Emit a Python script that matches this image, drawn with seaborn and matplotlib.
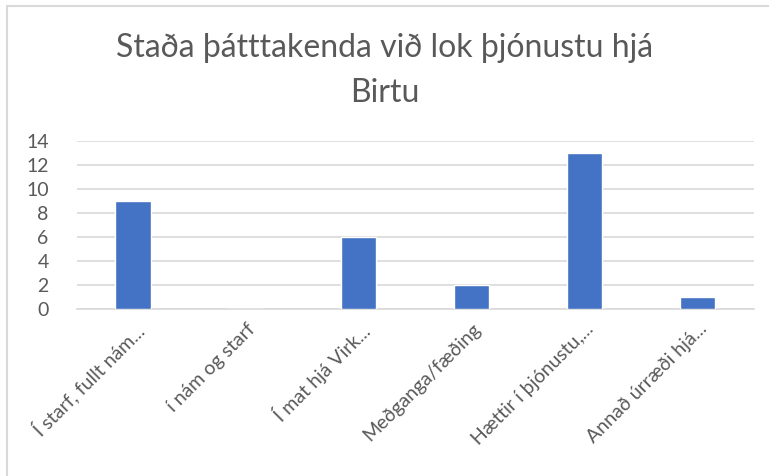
import matplotlib
matplotlib.use("Agg")
import matplotlib.pyplot as plt
from matplotlib.lines import Line2D
import seaborn as sns
import pandas as pd

categories = ["Í starf, fullt nám...", "í nám og starf", "Í mat hjá Virk...",
              "Meðganga/fæðing", "Hættir í þjónustu,...", "Annað úrræði hjá..."]
counts = [9, 0, 6, 2, 13, 1]
y_ticks = [0, 2, 4, 6, 8, 10, 12, 14]

title = "Staða þátttakenda við lok þjónustu hjá\nBirtu"

sns.set_style("white")
plt.rcParams["font.family"] = ["Lato", "DejaVu Sans"]
txt = "#595959"
grid = "#D9D9D9"

df = pd.DataFrame({"cat": categories, "n": counts})

fig = plt.figure(figsize=(7.69, 4.76), dpi=100)
ax = fig.add_axes([0.0995, 0.351, 0.8815, 0.353])
sns.barplot(data=df, x="cat", y="n", color="#4472C4", width=0.31,
            saturation=1, ax=ax, zorder=3)

ax.set_ylim(0, 14)
ax.set_yticks(y_ticks)
ax.yaxis.grid(True, color=grid, linewidth=1.2, zorder=0)
ax.set_axisbelow(True)
for s in ["top", "right", "left"]:
    ax.spines[s].set_visible(False)
ax.spines["bottom"].set_color(grid)
ax.spines["bottom"].set_linewidth(1.2)
ax.set_xlabel("")
ax.set_ylabel("")
ax.tick_params(axis="y", length=0, pad=20, labelsize=14, labelcolor=txt)
ax.tick_params(axis="x", length=0, pad=8, labelsize=14, labelcolor=txt)
ax.set_xticks(range(len(categories)))
ax.set_xticklabels(categories, rotation=45, ha="right", rotation_mode="anchor")
for lab in ax.get_yticklabels():
    lab.set_ha("right")

fig.text(0.5, 0.851, title, ha="center", va="center", fontsize=23,
         color=txt, linespacing=1.62)

# chart frame (top and left edges)
fig.add_artist(Line2D([7 / 769, 1], [1 - 6 / 476, 1 - 6 / 476],
                      transform=fig.transFigure, color=grid, linewidth=1.5))
fig.add_artist(Line2D([7 / 769, 7 / 769], [0, 1 - 6 / 476],
                      transform=fig.transFigure, color=grid, linewidth=1.5))

fig.savefig("out.png", dpi=100, facecolor="white")
